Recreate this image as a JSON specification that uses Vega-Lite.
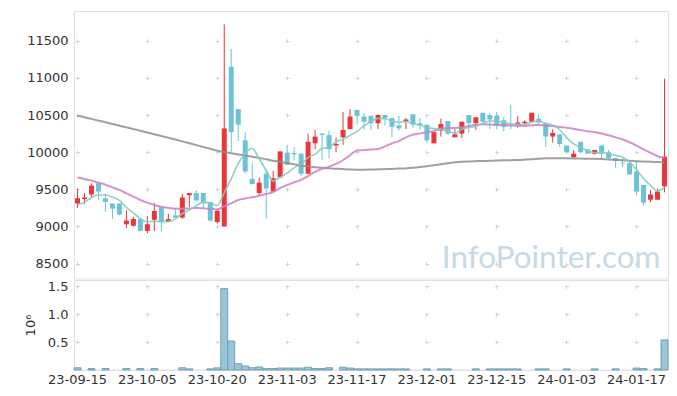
{
 "$schema": "https://vega.github.io/schema/vega-lite/v6.json",
 "padding": {"left": 23, "top": 10, "right": 10, "bottom": 0},
 "background": "white",
 "spacing": 0,
 "config": {
  "view": {"stroke": "#e0e0e0"},
  "font": "DejaVu Sans",
  "axis": {"labelFont": "DejaVu Sans", "labelFontSize": 13, "labelColor": "#333333", "gridColor": "#d4d4d4", "gridWidth": 1}
 },
 "datasets": {
  "px": [
   {"d":"23-09-15","o":9310,"h":9510,"l":9250,"c":9380,"v":40000,"m5":9290,"m20":9660,"m60":10490},
   {"d":"23-09-18","o":9370,"h":9450,"l":9300,"c":9390,"v":3000,"m5":9325,"m20":9640,"m60":10470},
   {"d":"23-09-19","o":9430,"h":9580,"l":9390,"c":9550,"v":25000,"m5":9390,"m20":9617,"m60":10448},
   {"d":"23-09-20","o":9580,"h":9590,"l":9360,"c":9470,"v":3000,"m5":9424,"m20":9590,"m60":10425},
   {"d":"23-09-21","o":9380,"h":9440,"l":9200,"c":9330,"v":25000,"m5":9423,"m20":9563,"m60":10402},
   {"d":"23-09-22","o":9310,"h":9310,"l":9100,"c":9240,"v":3000,"m5":9396,"m20":9527,"m60":10379},
   {"d":"23-09-25","o":9310,"h":9310,"l":9150,"c":9160,"v":3000,"m5":9350,"m20":9492,"m60":10357},
   {"d":"23-09-26","o":9030,"h":9220,"l":8980,"c":9080,"v":25000,"m5":9257,"m20":9446,"m60":10334},
   {"d":"23-09-27","o":9010,"h":9130,"l":9000,"c":9100,"v":3000,"m5":9184,"m20":9402,"m60":10311},
   {"d":"23-10-04","o":9100,"h":9120,"l":8930,"c":8940,"v":25000,"m5":9105,"m20":9357,"m60":10289},
   {"d":"23-10-05","o":8940,"h":9140,"l":8910,"c":9030,"v":3000,"m5":9061,"m20":9321,"m60":10266},
   {"d":"23-10-06","o":9090,"h":9320,"l":8940,"c":9210,"v":25000,"m5":9071,"m20":9290,"m60":10242},
   {"d":"23-10-10","o":9260,"h":9260,"l":8940,"c":9060,"v":3000,"m5":9066,"m20":9265,"m60":10218},
   {"d":"23-10-11","o":9060,"h":9170,"l":9060,"c":9100,"v":3000,"m5":9066,"m20":9250,"m60":10194},
   {"d":"23-10-12","o":9150,"h":9240,"l":9110,"c":9120,"v":3000,"m5":9102,"m20":9240,"m60":10170},
   {"d":"23-10-13","o":9120,"h":9440,"l":9100,"c":9390,"v":40000,"m5":9175,"m20":9238,"m60":10145},
   {"d":"23-10-16","o":9420,"h":9450,"l":9260,"c":9450,"v":20000,"m5":9221,"m20":9243,"m60":10120},
   {"d":"23-10-17","o":9450,"h":9490,"l":9350,"c":9350,"v":3000,"m5":9280,"m20":9248,"m60":10095},
   {"d":"23-10-18","o":9450,"h":9450,"l":9250,"c":9330,"v":3000,"m5":9325,"m20":9245,"m60":10070},
   {"d":"23-10-19","o":9330,"h":9330,"l":9060,"c":9080,"v":20000,"m5":9318,"m20":9237,"m60":10045},
   {"d":"23-10-20","o":9060,"h":9240,"l":9040,"c":9210,"v":38000,"m5":9283,"m20":9229,"m60":10020},
   {"d":"23-10-23","o":9000,"h":11720,"l":9000,"c":10320,"v":1460000,"m5":9457,"m20":9275,"m60":10003},
   {"d":"23-10-24","o":11150,"h":11390,"l":10000,"c":10270,"v":520000,"m5":9641,"m20":9311,"m60":9987},
   {"d":"23-10-25","o":10580,"h":10580,"l":10150,"c":10370,"v":113000,"m5":9849,"m20":9356,"m60":9970},
   {"d":"23-10-26","o":10160,"h":10270,"l":9710,"c":9740,"v":72000,"m5":9981,"m20":9377,"m60":9955},
   {"d":"23-10-27","o":9640,"h":9860,"l":9570,"c":9570,"v":41000,"m5":10052,"m20":9393,"m60":9939},
   {"d":"23-10-30","o":9450,"h":9660,"l":9420,"c":9590,"v":54000,"m5":9906,"m20":9414,"m60":9922},
   {"d":"23-10-31","o":9710,"h":9770,"l":9100,"c":9510,"v":25000,"m5":9756,"m20":9436,"m60":9905},
   {"d":"23-11-01","o":9470,"h":9750,"l":9470,"c":9650,"v":25000,"m5":9611,"m20":9463,"m60":9886},
   {"d":"23-11-02","o":9660,"h":10010,"l":9660,"c":10010,"v":35000,"m5":9664,"m20":9517,"m60":9870},
   {"d":"23-11-03","o":9990,"h":10100,"l":9830,"c":9830,"v":35000,"m5":9717,"m20":9557,"m60":9853},
   {"d":"23-11-06","o":9990,"h":10070,"l":9890,"c":9970,"v":35000,"m5":9793,"m20":9595,"m60":9837},
   {"d":"23-11-07","o":9980,"h":9980,"l":9680,"c":9710,"v":35000,"m5":9832,"m20":9627,"m60":9822},
   {"d":"23-11-08","o":9710,"h":10250,"l":9710,"c":10140,"v":50000,"m5":9930,"m20":9679,"m60":9809},
   {"d":"23-11-09","o":10120,"h":10300,"l":10040,"c":10210,"v":25000,"m5":9970,"m20":9734,"m60":9798},
   {"d":"23-11-10","o":10250,"h":10250,"l":9900,"c":10230,"v":25000,"m5":10049,"m20":9775,"m60":9790},
   {"d":"23-11-13","o":10230,"h":10290,"l":9920,"c":10040,"v":40000,"m5":10064,"m20":9805,"m60":9783},
   {"d":"23-11-14","o":10090,"h":10200,"l":10000,"c":10110,"v":3000,"m5":10140,"m20":9842,"m60":9777},
   {"d":"23-11-15","o":10200,"h":10540,"l":10100,"c":10300,"v":50000,"m5":10173,"m20":9891,"m60":9772},
   {"d":"23-11-16","o":10310,"h":10580,"l":10310,"c":10480,"v":35000,"m5":10226,"m20":9961,"m60":9768},
   {"d":"23-11-17","o":10570,"h":10570,"l":10370,"c":10490,"v":20000,"m5":10279,"m20":10024,"m60":9765},
   {"d":"23-11-20","o":10480,"h":10530,"l":10300,"c":10410,"v":20000,"m5":10354,"m20":10029,"m60":9765},
   {"d":"23-11-21","o":10490,"h":10490,"l":10300,"c":10390,"v":20000,"m5":10414,"m20":10035,"m60":9766},
   {"d":"23-11-22","o":10390,"h":10510,"l":10310,"c":10500,"v":20000,"m5":10455,"m20":10042,"m60":9769},
   {"d":"23-11-23","o":10500,"h":10500,"l":10360,"c":10460,"v":20000,"m5":10450,"m20":10078,"m60":9772},
   {"d":"23-11-24","o":10460,"h":10460,"l":10200,"c":10340,"v":20000,"m5":10421,"m20":10117,"m60":9775},
   {"d":"23-11-27","o":10360,"h":10490,"l":10290,"c":10320,"v":20000,"m5":10402,"m20":10153,"m60":9779},
   {"d":"23-11-28","o":10410,"h":10460,"l":10310,"c":10440,"v":20000,"m5":10412,"m20":10199,"m60":9782},
   {"d":"23-11-29","o":10510,"h":10510,"l":10330,"c":10370,"v":3000,"m5":10385,"m20":10236,"m60":9790},
   {"d":"23-11-30","o":10390,"h":10460,"l":10300,"c":10360,"v":3000,"m5":10365,"m20":10253,"m60":9800},
   {"d":"23-12-01","o":10370,"h":10370,"l":10120,"c":10160,"v":20000,"m5":10328,"m20":10269,"m60":9812},
   {"d":"23-12-04","o":10120,"h":10270,"l":10120,"c":10270,"v":3000,"m5":10317,"m20":10284,"m60":9825},
   {"d":"23-12-05","o":10290,"h":10450,"l":10210,"c":10380,"v":20000,"m5":10306,"m20":10318,"m60":9838},
   {"d":"23-12-06","o":10420,"h":10420,"l":10230,"c":10250,"v":20000,"m5":10281,"m20":10323,"m60":9852},
   {"d":"23-12-07","o":10200,"h":10310,"l":10200,"c":10240,"v":3000,"m5":10257,"m20":10325,"m60":9863},
   {"d":"23-12-08","o":10250,"h":10410,"l":10190,"c":10410,"v":3000,"m5":10308,"m20":10334,"m60":9872},
   {"d":"23-12-11","o":10500,"h":10500,"l":10260,"c":10390,"v":3000,"m5":10332,"m20":10351,"m60":9876},
   {"d":"23-12-12","o":10390,"h":10470,"l":10300,"c":10470,"v":20000,"m5":10349,"m20":10370,"m60":9879},
   {"d":"23-12-13","o":10530,"h":10530,"l":10370,"c":10410,"v":3000,"m5":10383,"m20":10376,"m60":9881},
   {"d":"23-12-14","o":10500,"h":10530,"l":10310,"c":10440,"v":20000,"m5":10423,"m20":10374,"m60":9884},
   {"d":"23-12-15","o":10490,"h":10540,"l":10310,"c":10360,"v":20000,"m5":10412,"m20":10367,"m60":9887},
   {"d":"23-12-18","o":10430,"h":10470,"l":10280,"c":10340,"v":20000,"m5":10404,"m20":10364,"m60":9890},
   {"d":"23-12-19","o":10370,"h":10640,"l":10310,"c":10350,"v":20000,"m5":10379,"m20":10362,"m60":9893},
   {"d":"23-12-20","o":10360,"h":10490,"l":10330,"c":10400,"v":20000,"m5":10376,"m20":10356,"m60":9895},
   {"d":"23-12-21","o":10390,"h":10430,"l":10360,"c":10410,"v":3000,"m5":10371,"m20":10354,"m60":9900},
   {"d":"23-12-22","o":10410,"h":10530,"l":10400,"c":10530,"v":3000,"m5":10406,"m20":10363,"m60":9906},
   {"d":"23-12-26","o":10450,"h":10520,"l":10370,"c":10400,"v":20000,"m5":10417,"m20":10367,"m60":9913},
   {"d":"23-12-27","o":10390,"h":10390,"l":10070,"c":10210,"v":20000,"m5":10390,"m20":10356,"m60":9918},
   {"d":"23-12-28","o":10210,"h":10310,"l":10130,"c":10260,"v":3000,"m5":10362,"m20":10351,"m60":9920},
   {"d":"24-01-02","o":10240,"h":10240,"l":10070,"c":10110,"v":3000,"m5":10302,"m20":10338,"m60":9920},
   {"d":"24-01-03","o":10090,"h":10090,"l":10000,"c":10000,"v":20000,"m5":10196,"m20":10330,"m60":9918},
   {"d":"24-01-04","o":9930,"h":10030,"l":9930,"c":9980,"v":3000,"m5":10111,"m20":10316,"m60":9916},
   {"d":"24-01-05","o":10140,"h":10140,"l":9980,"c":10000,"v":3000,"m5":10068,"m20":10297,"m60":9914},
   {"d":"24-01-08","o":10040,"h":10040,"l":9980,"c":9980,"v":3000,"m5":10011,"m20":10283,"m60":9912},
   {"d":"24-01-09","o":9980,"h":10030,"l":9970,"c":10030,"v":20000,"m5":9996,"m20":10273,"m60":9910},
   {"d":"24-01-10","o":10090,"h":10100,"l":9910,"c":9980,"v":3000,"m5":9992,"m20":10251,"m60":9907},
   {"d":"24-01-11","o":10000,"h":10030,"l":9910,"c":9920,"v":3000,"m5":9981,"m20":10228,"m60":9903},
   {"d":"24-01-12","o":9920,"h":9920,"l":9790,"c":9880,"v":20000,"m5":9957,"m20":10199,"m60":9897},
   {"d":"24-01-15","o":9860,"h":9910,"l":9800,"c":9850,"v":3000,"m5":9933,"m20":10171,"m60":9891},
   {"d":"24-01-16","o":9850,"h":9890,"l":9700,"c":9700,"v":3000,"m5":9865,"m20":10134,"m60":9884},
   {"d":"24-01-17","o":9740,"h":9890,"l":9420,"c":9470,"v":35000,"m5":9765,"m20":10089,"m60":9878},
   {"d":"24-01-18","o":9560,"h":9560,"l":9280,"c":9320,"v":25000,"m5":9644,"m20":10038,"m60":9873},
   {"d":"24-01-19","o":9360,"h":9490,"l":9330,"c":9430,"v":3000,"m5":9554,"m20":9992,"m60":9870},
   {"d":"24-01-22","o":9360,"h":9510,"l":9360,"c":9470,"v":20000,"m5":9477,"m20":9946,"m60":9868},
   {"d":"24-01-23","o":9540,"h":10990,"l":9460,"c":9940,"v":540000,"m5":9525,"m20":9922,"m60":9866}
  ]
 },
 "vconcat": [
  {
   "width": 594,
   "height": 267.5,
   "data": {"name": "px"},
   "encoding": {
    "x": {"field": "d", "type": "ordinal", "sort": null,
      "scale": {"paddingInner": 0, "paddingOuter": 0},
      "axis": {"title": null, "labels": false, "ticks": false, "domain": false, "minExtent": 0, "maxExtent": 0, "offset": 0,
        "values": ["23-09-15","23-10-05","23-10-20","23-11-03","23-11-17","23-12-01","23-12-15","24-01-03","24-01-17"],
        "grid": true, "gridDash": [4, 33.15], "gridDashOffset": 9.43}}
   },
   "layer": [
    {"mark": {"type": "rule", "strokeWidth": 1},
     "encoding": {
      "y": {"field": "l", "type": "quantitative", "scale": {"domain": [8300, 11900], "nice": false, "zero": false},
        "axis": {"title": null, "values": [8500, 9000, 9500, 10000, 10500, 11000, 11500], "format": "d", "domain": false, "ticks": false, "labelPadding": 6, "grid": true, "gridDash": [4, 65.88], "gridDashOffset": 68.38}},
      "y2": {"field": "h"},
      "color": {"condition": {"test": "datum.c >= datum.o", "value": "#e8363b"}, "value": "#6cc3d9"}
     }},
    {"mark": {"type": "bar", "size": 5},
     "encoding": {
      "y": {"field": "o", "type": "quantitative", "title": null},
      "y2": {"field": "c"},
      "color": {"condition": {"test": "datum.c >= datum.o", "value": "#e8363b"}, "value": "#6cc3d9"}
     }},
    {"mark": {"type": "line", "interpolate": "monotone", "color": "#8f8f8f", "strokeWidth": 2, "opacity": 0.85},
     "encoding": {"y": {"field": "m60", "type": "quantitative", "title": null}}},
    {"mark": {"type": "line", "interpolate": "monotone", "color": "#c982c2", "strokeWidth": 2, "opacity": 0.85},
     "encoding": {"y": {"field": "m20", "type": "quantitative", "title": null}}},
    {"mark": {"type": "line", "interpolate": "monotone", "color": "#84cbbf", "strokeWidth": 1.6, "opacity": 0.9},
     "encoding": {"y": {"field": "m5", "type": "quantitative", "title": null}}},
    {"data": {"values": [{"d": "24-01-23", "p": 8445, "t": "InfoPointer.com"}]},
     "mark": {"type": "text", "align": "right", "baseline": "alphabetic", "font": "Lato", "fontSize": 31.5, "color": "#c8d9e3", "dx": -4},
     "encoding": {"y": {"field": "p", "type": "quantitative", "title": null}, "text": {"field": "t"}}}
   ]
  },
  {
   "width": 594,
   "height": 90,
   "data": {"name": "px"},
   "mark": {"type": "bar", "color": "#9cc4d7", "stroke": "#6ea2ba", "strokeWidth": 1},
   "encoding": {
    "x": {"field": "d", "type": "ordinal", "sort": null,
      "scale": {"paddingInner": 0, "paddingOuter": 0},
      "axis": {"title": null, "labelAngle": 0, "ticks": false, "domain": false, "labelPadding": 3,
        "values": ["23-09-15","23-10-05","23-10-20","23-11-03","23-11-17","23-12-01","23-12-15","24-01-03","24-01-17"],
        "grid": true, "gridDash": [4, 23.86], "gridDashOffset": 23.45}},
    "y": {"field": "v", "type": "quantitative", "scale": {"domain": [0, 1615000], "nice": false},
      "axis": {"title": "10⁶", "values": [500000, 1000000, 1500000], "labelExpr": "format(datum.value / 1000000, '.1f')",
        "domain": false, "ticks": false, "labelPadding": 6, "titleFontWeight": "normal", "titleFontSize": 13, "titleColor": "#333333", "titleFont": "DejaVu Sans", "titlePadding": 10,
        "grid": true, "gridDash": [4, 65.88], "gridDashOffset": 68.38}},
    "strokeOpacity": {"condition": {"test": "datum.v < 10000", "value": 0}, "value": 1}
   }
  }
 ]
}
